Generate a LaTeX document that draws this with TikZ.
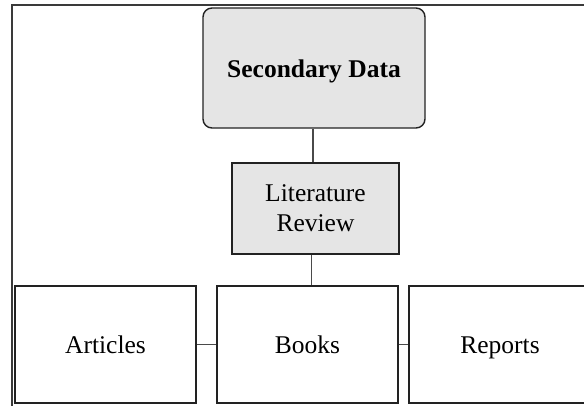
\documentclass[tikz,border=0pt]{standalone}
\usepackage{fontspec}
\setmainfont{Liberation Serif}
\definecolor{boxgray}{HTML}{E5E5E5}
\definecolor{edgedark}{HTML}{222222}
\definecolor{linkgray}{HTML}{4A4A4A}
\definecolor{framegray}{HTML}{3A3A3A}
\begin{document}
\begin{tikzpicture}[x=1pt,y=-1pt,
  base/.style={draw=edgedark, line width=1.4pt, inner sep=0pt, align=center,
               font=\fontsize{25.5}{30}\selectfont},
  oneline/.style={text height=18pt, text depth=0pt},
  headbox/.style={base, oneline, fill=boxgray, rounded corners=9pt,
                  minimum width=222pt, minimum height=120pt, font=\fontsize{25.5}{30}\selectfont\bfseries},
  midbox/.style={base, fill=boxgray, minimum width=167pt, minimum height=91pt},
  leafbox/.style={base, oneline, fill=white, minimum width=181pt, minimum height=117pt},
  link/.style={draw=linkgray, line width=1.4pt}]
  \useasboundingbox (0,0) rectangle (584,405);
  \clip (0,0) rectangle (584,405);
  % outer frame, running past the right and bottom edges
  \draw[framegray, line width=2pt] (11.5,5) rectangle (700,520);

  \node[headbox] (sec) at (314,68) {Secondary Data};
  \node[midbox] (lit) at (315.5,208.5) {Literature\\Review};
  \node[leafbox] (art) at (105.5,344.5) {Articles};
  \node[leafbox] (bok) at (307.5,344.5) {Books};
  \node[leafbox, minimum width=182pt] (rep) at (500,344.5) {Reports};

  \draw[link] ([xshift=-1pt]sec.south) -- ([xshift=-1pt]sec.south |- lit.north);
  \draw[link] ([xshift=-4pt]lit.south) -- ([xshift=-4pt]lit.south |- bok.north);
  \draw[link] (art.east) -- (bok.west);
  \draw[link] (bok.east) -- (rep.west);
\end{tikzpicture}
\end{document}
